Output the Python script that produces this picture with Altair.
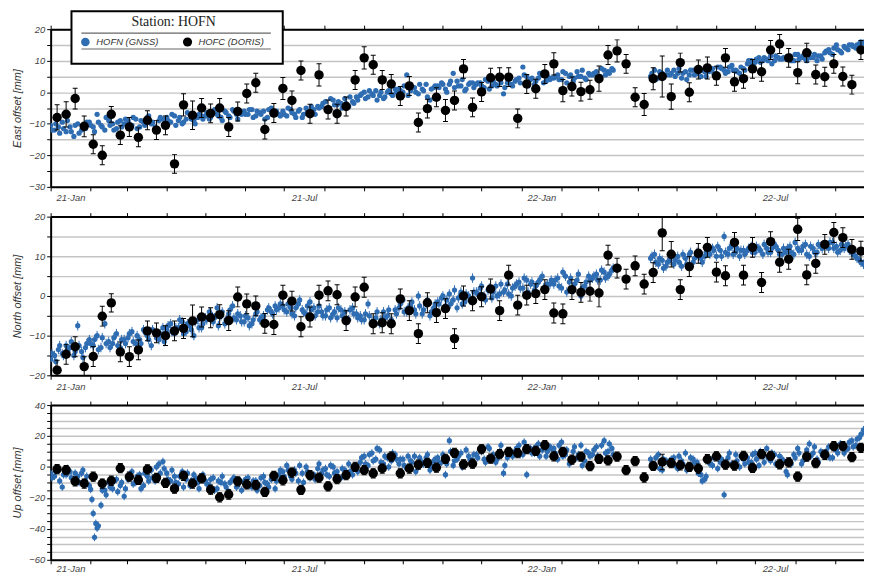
import altair as alt
import pandas as pd

BLUE = "#2f6db3"

# ---------------- GNSS (HOFN): two interleaved 3-day series (None = data gap)
GNSS_A_START = "2021-01-01"
GNSS_B_START = "2021-01-02"
GNSS_N = 211

east_gnss_a = [
    -10.5, -12, -11, -9.5, -12.5, -11, -14, -10, -12, -11.5,
    -9.5, -11, -7, -10.5, -12, -9, -10, -11.5, -9, -10,
    -9, -10.5, -8.5, -11, -9.5, -8, -10, -11, -9, -8.5,
    -8, -9.5, -7.5, -9, -10, -8.5, -7, -9, -8, -7.5,
    -7.5, -8.5, -6.5, -7, -8, -6, -7.5, -5.5, -7, -6.5,
    -6, -7, -5.5, -7.5, -6.5, -6, -8, -5, -6.5, -7,
    -6, -7.5, -5.5, -7, -6, -8, -5, -6.5, -5.5, -4.5,
    -4.5, -3, -5, -2.5, -4, -3.5, -2, -4.5, -3, -1.5,
    -1, 0, -1.5, -0.5, 0.5, -1, -2, 0, -0.5, 1,
    1, 0, 5.5, 0.5, 1.5, -0.5, 1, 2.5, -2.5, 1.5,
    2, 3, 1, 2.5, 6, 3.5, 2, 0.5, 2.5, 3,
    2.5, 3, 1.5, 3.5, 2, 2.5, 4, -0.5, 3, 2.5,
    3.5, 4.5, 8, 5, 4, 2.5, 4.5, 5.5, 3.5, 4,
    4.5, 5.5, 4, 6, 5, 3.5, 6.5, 5, 4.5, 6,
    5.5, 6.5, 5, 7, 6.5, 7.5, None, None, None, None,
    None, None, None, None, None, 5, 7, 4.5, 6, 5.5,
    5.5, 7, 6, 4.5, 6.5, 5.5, 7, 6, 5, 6.5,
    6.5, 7.5, 6, 8, 7, 6.5, 8.5, 7, 6, 7.5,
    9, 10, 9.5, 11, 10, 10.5, 11.5, 10, 11, 10.5,
    10.5, 11.5, 10, 12, 11, 10.5, 12.5, 11, 10, 11.5,
    12.5, 13.5, 12, 15, 13, 14.5, 13.5, 15, 14, 15.5,
    15.5,
]
east_gnss_b = [
    -12, -10, -13, -11.5, -9, -12.5, -10.5, -13, -11, -9.5,
    -10.5, -12.5, -9.5, -11, -8, -10.5, -12, -9.5, -11, -8.5,
    -10, -8, -11.5, -9, -10.5, -7.5, -9.5, -12, -8, -10,
    -9, -7, -10.5, -8, -9.5, -6.5, -8.5, -10, -7, -8.5,
    -6.5, -8, -5.5, -7.5, -9, -6.5, -8, -6, -8.5, -7,
    -7, -5.5, -8, -6, -7, -8.5, -5.5, -7, -6, -7.5,
    -7, -5, -6.5, -8, -5.5, -7, -6, -4.5, -7, -5,
    -3.5, -5.5, -2, -4, -3, -5, -3.5, -1.5, -3.5, -2.5,
    -0.5, -2, 0.5, -1, -2.5, 0, -1.5, 0.5, -1, 0,
    0.5, 2, -1, 1.5, 0, 2.5, 0.5, -1.5, 1, 2,
    1.5, 2.5, 0, 3.5, 1.5, 2, 4, 1, 3, 1.5,
    3, 2, 4, 1, 3.5, 2, 3, 1.5, 4, 2,
    4, 3, 5.5, 2, 4.5, 3.5, 6, 3, 5, 4.5,
    5, 4, 6.5, 3, 5.5, 4.5, 5, 7, 4, 5.5,
    6, 5, 7.5, 5.5, 6, 7, None, None, None, None,
    None, None, None, None, None, 6, 4, 6.5, 5, 7,
    6, 5, 7.5, 6, 4, 7, 5.5, 6.5, 7, 5,
    7, 6, 8, 7.5, 6, 8, 7, 6.5, 8, 7,
    10, 9, 10.5, 9.5, 11, 10, 9, 11.5, 10.5, 11,
    11, 10, 12, 10.5, 11.5, 10, 11, 12, 11.5, 10.5,
    13, 12.5, 14, 13.5, 12.5, 14, 15, 14.5, 15, 16,
    16,
]

north_gnss_a = [
    -16, -15, -13.5, -14.5, -12.5, -13, -15, -7.5, -14, -13,
    -11, -12.5, -10, -13, -7, -11.5, -12, -9.5, -13, -11,
    -10.5, -9, -12, -11, -8.5, -10, -12.5, -9.5, -11, -8,
    -8.5, -7, -9.5, -8, -6.5, -9, -7.5, -10, -6, -8,
    -5.5, -4, -6.5, -3, -5, -7, -4.5, -2.5, -6, -5,
    -6.5, -5.5, -7, -4.5, -6, -5, -3.5, -4, -2.5, -3,
    -2.5, -4, -3, -5, -2, -3.5, -4.5, -1.5, -3, -4,
    -4, -5, -3, -4.5, -5.5, -3.5, -4, -6, -3, -4.5,
    -5, -6, -2, -6.5, -5.5, -7, -4, -5, -6, -3.5,
    -3, -1, -4, -2.5, -3.5, 0, -4.5, -2, -5, -3,
    -1.5, -0.5, -2.5, 0.5, -1, -3, 1, -1.5, 0, 4.5,
    1, 2, 0, 1.5, -0.5, 2.5, 0.5, 1, 3, 0,
    2.5, 3.5, 2, 4, 3, 1.5, 3.5, 5, 2.5, 3,
    3, 4.5, 2, 5, 3.5, 1.5, 4, 0, 2.5, 5,
    4.5, 5.5, 4, 6, 5, 6.5, None, None, None, None,
    None, None, None, None, None, 9.5, 10.5, 8, 9, 7.5,
    9, 8, 10, 7.5, 9.5, 10.5, 8.5, 11, 9.5, 10,
    11, 12, 10, 11.5, 15, 10.5, 12.5, 11, 10, 11.5,
    11.5, 12.5, 11, 12, 10.5, 12, 11, 13, 11.5, 10.5,
    11, 12.5, 10.5, 12, 11.5, 13, 10, 12, 11, 12.5,
    13, 12, 13.5, 12.5, 11.5, 12, 13, 11, 10, 9,
    8,
]
north_gnss_b = [
    -14.5, -16.5, -12.5, -15, -13.5, -11.5, -14, -12.5, -15.5, -12,
    -12, -11, -13.5, -10.5, -12, -13, -10.5, -12.5, -11, -12,
    -9.5, -11.5, -10, -12, -9, -11, -8.5, -10.5, -9.5, -11.5,
    -7.5, -9, -8, -6, -9.5, -7, -8.5, -6.5, -8, -7,
    -6, -4.5, -5.5, -7.5, -4, -6, -3.5, -5.5, -4.5, -6.5,
    -5, -7.5, -6, -4, -5.5, -6.5, -3, -4.5, -3.5, -2,
    -3.5, -2, -4.5, -3, -1, -4, -2.5, -3.5, -5, -2.5,
    -5, -3.5, -5.5, -4, -3, -5, -6.5, -3.5, -4.5, -5.5,
    -6, -4.5, -5, -7, -4, -6, -5.5, -3.5, -6.5, -4.5,
    -2, -4, -3, -1.5, -4.5, -2.5, -3.5, -1, -4, -2,
    -2, 0, -1, -2, 1.5, -0.5, -2, 0.5, -1, 1,
    0.5, 2.5, -1, 2, 1, 0, 3, 1.5, 0.5, 2,
    3, 2, 4.5, 1, 3.5, 2.5, 4, 2, 3, 4,
    4, 2.5, 6, 1, 4.5, 3, 5.5, 2, 3.5, 4,
    5, 4, 6.5, 4.5, 5.5, 7, None, None, None, None,
    None, None, None, None, None, 10, 8.5, 9.5, 7, 8.5,
    10, 9, 8.5, 10.5, 8, 11, 9.5, 10, 8.5, 11,
    10.5, 11.5, 12.5, 10, 11, 12, 10.5, 12, 11.5, 10.5,
    12, 11, 12.5, 11.5, 13, 11, 12, 12.5, 10.5, 12,
    12, 11, 13.5, 11.5, 12.5, 10.5, 12.5, 11, 13, 12,
    12.5, 13.5, 12, 11, 13, 12.5, 11.5, 10.5, 9.5, 8.5,
    8,
]

up_gnss_a = [
    -4, -6, -2, -13, -5, -3, -8, -6, -4, -9,
    -12, -30, -39.5, -24.7, -15, -10, -14, -8, -12, -19,
    -8, -3, -10, -5, -12, -6, -2, -9, 2, 3.5,
    -4, -9, -6, -11, -3, -8, -12, -5, -10, -7,
    -9, -12, -7, -14, -10, -11, -16, -8, -13, -9,
    -10, -7, -13, -9, -12, -6, -11, -8, -14, -5,
    -3, 1, -6, -2, -9, -4, 0, -7, -5, -1,
    -4, -1, -6, 0, -3, -7, -2, 2, -5, -1,
    3, 7, 1, 9, 5, 11, 2, 6, 4, 8,
    2, 5, -1, 4, 7, 0, 3, 6, -2, 4,
    6, 3, -5, 17, 1, 5, 9, 2, 7, 4,
    8, 11, 5, 13, 7, 3, 10, -4, 6, 9,
    10, 14, 8, -5, 12, 9, 15, 11, 7, 13,
    12, 5, 16, 8, 2, 10, 6, 14, 4, 9,
    8, 13, 6, 17, 10, 12, None, None, None, None,
    None, None, None, None, None, 5, 1, 8, -2, 4,
    2, 6, -1, 4, 9, 0, 5, 3, -5, -8,
    4, 1, 7, 3, -18, 6, 2, 8, 0, 5,
    6, 3, 9, 1, 7, 12, 4, 8, 2, 5,
    -3, 4, 8, 12, 2, 6, 15, 9, 5, 10,
    8, 13, 6, 11, 15, 9, 12, 17, 14, 19,
    24,
]
up_gnss_b = [
    -7, -3, -9, -5, -1, -7, -4, -10, -2, -6,
    -14.5, -45.5, -38, -15, -18, -13, -9, -16, -10, -14,
    -5, -11, -6, -14, -4, -9, -7, 0, -4, -1,
    -8, -2, -10, -6, -13, -4, -9, -7, -14, -5,
    -11, -8, -15, -9, -6, -13, -10, -7, -12, -15,
    -8, -12, -9, -15, -7, -10, -13, -6, -9, -2,
    -6, -2, -8, -4, 1, -10, -3, -5, -8, 2,
    -2, -5, 1, -4, -8, -1, -5, -3, 0, -3,
    6, 2, 8, 4, 12, 3, 7, 0, 9, 5,
    5, 1, 7, 3, -3, 6, 2, 8, 1, 5,
    3, 8, 2, 10, 4, 7, 0, 11, 5, 8,
    6, 10, 3, 12, 8, 5, 14, 1, 9, 7,
    12, 8, 16, 11, 9, 13, 7, 14, 10, 12,
    9, 14, 7, 11, 3, 13, 8, 1, 10, 7,
    11, 7, 14, 9, 15, 8, None, None, None, None,
    None, None, None, None, None, 2, 6, -1, 5, 3,
    5, 1, 7, 2, -2, 6, 3, -4, -9, -6,
    2, 6, -1, 5, 3, 9, 1, 4, 7, 2,
    3, 8, 5, 10, 3, 6, 9, 2, 7, 4,
    -5, 2, 6, 9, 4, 11, 7, 13, 3, 8,
    10, 6, 12, 9, 14, 11, 16, 13, 18, 21,
    22,
]

# extra daily GNSS Up values inside the early-February dip
up_dip_dates = ["2021-02-02", "2021-02-05"]
up_dip_vals = [-21, -36.5]

gnss_sigma = {"east": 0.5, "north": 1.2, "up": 2.5}

# ---------------- DORIS (HOFC): weekly from 2021-01-06
DORIS_START = "2021-01-06"
DORIS_N = 91

east_doris = [
    -8.0, -7.0, -2.0, -10.8, -16.5, -20.0, -7.0, -13.6, -11.0, -14.3,
    -8.9, -12.0, -10.5, -22.7, -4.0, -7.3, -5.0, -6.7, -5.0, -11.0,
    -6.1, -0.4, 3.0, -11.8, -6.6, 1.2, -2.6, 6.9, -6.8, 5.5,
    -5.5, -6.8, -4.5, 3.9, 10.9, 8.7, 3.9, 2.6, -1.2, 2.0,
    -9.6, -5.2, -1.6, -5.8, -2.6, 7.4, -4.8, 0.1, 4.6, 4.8,
    4.8, -8.3, 2.6, 1.1, 5.8, 9.0, 0.5, 1.8, 0.2, 0.8,
    4.3, 11.8, 13.1, 9.0, -1.6, -3.9, 4.3, 5.0, -1.4, 9.4,
    0.0, 7.2, 7.7, 5.2, 10.9, 3.3, 4.3, 7.4, 6.5, 13.4,
    15.3, 10.9, 6.2, 12.5, 5.6, 4.9, 9.0, 5.0, 2.4, 13.4,
    0.8,
]
east_doris_err = [
    4, 4, 3.3, 3.3, 3, 3, 2.5, 3, 3, 3,
    3, 3, 3, 3, 3.5, 4.5, 3, 3, 3, 3,
    3, 3, 3, 3, 3, 3.5, 3, 3, 3, 3.5,
    3, 3, 3, 3, 3.5, 3, 3, 3, 3, 3,
    3, 3, 3, 3.5, 3, 3, 3, 3, 3, 3,
    3, 3, 3, 3, 3, 3.5, 3.5, 3, 3, 3,
    4, 3, 3.5, 3, 3, 3.5, 3.5, 6.5, 4, 3,
    3, 3, 3.5, 3, 3, 3, 3, 3, 3, 3,
    3, 3, 3.5, 3, 3, 3, 3, 3, 3, 3,
    3,
]

north_doris = [
    -18.7, -14.7, -12.8, -17.8, -15.25, -5.1, -1.75, -14.1, -15.3, -13.6,
    -8.8, -9.3, -10, -8.8, -8.2, -6.3, -5.3, -5.5, -4.7, -6.2,
    -0.25, -2, -2.5, -6.9, -7.2, 0.2, -1.3, -7.75, -5.3, 0.2,
    1.3, 0.3, -6.2, -0.25, 2.2, -7, -6.75, -7, -0.75, -3.7,
    -9.5, -1.7, -4.2, -3.2, -10.75, 0, -1.2, -0.2, 1.75, -3.7,
    5.25, -2.3, 0.2, 0.6, 1.6, -4.3, -4.5, 1.6, 0.9, 1.2,
    0.75, 10.3, 7, 4.25, 7.6, 3, 5.9, 15.9, 10.5, 1.6,
    7.4, 10.75, 12.25, 6, 5.1, 13.5, 5.25, 12.25, 3.4, 13.7,
    8.5, 9.25, 16.8, 5.3, 8.2, 13, 16, 14.7, 11.75, 11.3,
    11.2,
]
north_doris_err = [
    2.5, 2.5, 2.5, 2.5, 2.5, 2.5, 2.3, 2.5, 2.5, 2.5,
    2.5, 2.5, 2.5, 2.5, 2.5, 4, 2.5, 2.5, 2.5, 2.5,
    2.5, 2.5, 2.5, 2.5, 2.5, 2.5, 2.5, 2.5, 2.5, 2.5,
    2.5, 2.5, 2.5, 2.5, 2.5, 2.5, 2.5, 2.5, 2.5, 2.5,
    2.5, 2.5, 2.5, 2.5, 2.5, 2.5, 2.5, 2.5, 2.5, 2.5,
    2.5, 2.5, 2.5, 2.5, 2.5, 2.5, 2.5, 2.5, 2.5, 2.5,
    3.5, 2.5, 2.5, 2.5, 2.5, 2.5, 2.5, 4.5, 3.2, 2.5,
    2.5, 2.5, 2.5, 2.5, 2.5, 2.5, 2.5, 2.5, 2.5, 2.5,
    2.5, 2.5, 2.8, 2.5, 2.5, 2.5, 2.5, 2.5, 2.5, 2.5,
    2.5,
]

up_doris = [
    -1.4, -2, -9.3, -10.7, -6.3, -10.7, -8.9, -0.8, -6.3, -8.4,
    -1.6, -7, -10.3, -14, -5.7, -10.7, -7.4, -14.7, -19.6, -17.8,
    -9.3, -11.3, -11.7, -16.1, -5.7, -8.6, -3.6, -14.8, -5.3, -6.9,
    -12.5, -7.8, -5.3, 0, -2.1, -4.1, -1, 6.7, -4.1, -1,
    1.5, 2.7, -0.4, 5.2, 9.1, 1.7, 2.1, 11.6, 5.4, 8.3,
    9.8, 9, 11.5, 10.4, 14.1, 6.9, 9.8, 4.7, 6.7, 0.5,
    5.2, 4.2, 6.7, -2.1, 3.8, -6.8, 0.7, 3.2, 2.5, 1.1,
    0, -1, 5, 6.9, 1.5, 0.9, 7.1, -0.6, 8.3, 7.1,
    1.7, 2.9, -6.2, 6.7, 2.5, 7.9, 13.5, 13.5, 6.3, 12.4,
    23.8,
]
up_doris_err = [3] * 67 + [5] + [3] * 23

# ---------------- axes
month_ticks = [(y, m) for y in (2021, 2022) for m in range(1, 13) if not (y == 2022 and m > 9)]
X_START = (2021, 1, 1)
X_END = (2022, 9, 28)
PLOT_W = 826


def dt(y, m, d=1):
    return alt.DateTime(year=y, month=m, date=d, utc=True)


tick_values = [dt(y, m) for (y, m) in month_ticks]
xscale = alt.Scale(type="utc", domain=[dt(*X_START), dt(*X_END)], nice=False)


def bottom_axis(label_padding):
    return alt.Axis(
        orient="bottom", title=None, values=tick_values, grid=False,
        labelExpr="(utcmonth(datum.value) == 0 || utcmonth(datum.value) == 6) ? utcFormat(datum.value, '%y-%b') : ''",
        labelOffset=20, labelAlign="center", labelBaseline="top", labelPadding=label_padding,
        labelBound=False, labelFlush=False, labelOverlap=False,
    )


top_axis = alt.Axis(orient="top", title=None, values=tick_values, grid=False, labels=False)

dates_a = list(pd.date_range(GNSS_A_START, periods=GNSS_N, freq="3D").strftime("%Y-%m-%d"))
dates_b = list(pd.date_range(GNSS_B_START, periods=GNSS_N, freq="3D").strftime("%Y-%m-%d"))
doris_dates = list(pd.date_range(DORIS_START, periods=DORIS_N, freq="7D").strftime("%Y-%m-%d"))


def gnss_frame(vals_a, vals_b, sigma, extra_dates=(), extra_vals=()):
    df = pd.DataFrame({"date": dates_a + dates_b + list(extra_dates),
                       "value": list(vals_a) + list(vals_b) + list(extra_vals)})
    df = df.dropna().reset_index(drop=True)
    df["lo"] = df["value"] - sigma
    df["hi"] = df["value"] + sigma
    return df


def doris_frame(vals, errs):
    df = pd.DataFrame({"date": doris_dates, "value": vals, "err": errs})
    df["lo"] = df["value"] - df["err"]
    df["hi"] = df["value"] + df["err"]
    return df


ONE = pd.DataFrame({"k": [0]})


def legend_layers():
    box = alt.Chart(ONE).mark_rect(fill="white", stroke="black", strokeWidth=2).encode(
        x=alt.value(21), x2=alt.value(234), y=alt.value(-18), y2=alt.value(35))
    title = alt.Chart(ONE).mark_text(font="Liberation Serif", fontSize=14, color="#222",
                                     baseline="middle", align="center").encode(
        x=alt.value(124), y=alt.value(-7), text=alt.value("Station: HOFN"))
    line1 = alt.Chart(ONE).mark_rule(color="#666", strokeWidth=1.2).encode(
        x=alt.value(31), x2=alt.value(222), y=alt.value(4))
    line2 = alt.Chart(ONE).mark_rule(color="#666", strokeWidth=1.2).encode(
        x=alt.value(31), x2=alt.value(222), y=alt.value(20))
    sym1 = alt.Chart(ONE).mark_circle(color=BLUE, size=75, opacity=1).encode(
        x=alt.value(35), y=alt.value(13))
    sym2 = alt.Chart(ONE).mark_circle(color="black", size=85, opacity=1).encode(
        x=alt.value(138), y=alt.value(13))
    lab1 = alt.Chart(ONE).mark_text(font="Liberation Sans", fontStyle="italic", fontSize=9.5,
                                    color="#333", align="left", baseline="middle").encode(
        x=alt.value(46), y=alt.value(13), text=alt.value("HOFN (GNSS)"))
    lab2 = alt.Chart(ONE).mark_text(font="Liberation Sans", fontStyle="italic", fontSize=9.5,
                                    color="#333", align="left", baseline="middle").encode(
        x=alt.value(149), y=alt.value(13), text=alt.value("HOFC (DORIS)"))
    # invisible spacer fixing the left extent of the figure
    spacer = alt.Chart(ONE).mark_rule(opacity=0, strokeWidth=1).encode(
        x=alt.value(-42.5), y=alt.value(0), y2=alt.value(10))
    return [box, title, line1, line2, sym1, sym2, lab1, lab2, spacer]


def panel(gdf, ddf, title, ymin, ymax, label_step, height, label_padding=2, legend=False):
    yscale = alt.Scale(domain=[ymin, ymax], nice=False, zero=False)
    yaxis = alt.Axis(title=title, values=list(range(ymin, ymax + 1, 5)), grid=True,
                     labelExpr=f"datum.value % {label_step} == 0 ? datum.label : ''",
                     labelPadding=2, titleX=-33, titleY=height / 2, titleAngle=270,
                     titleAlign="center", titleBaseline="middle")
    x_none = alt.X("date:T", scale=xscale, axis=None)

    def Y(field):
        return alt.Y(field, type="quantitative", scale=yscale, axis=yaxis)

    g_err = alt.Chart(gdf).mark_rule(color=BLUE, strokeWidth=1, clip=True).encode(
        x=x_none, y=Y("lo"), y2="hi")
    g_pts = alt.Chart(gdf).mark_circle(color=BLUE, size=28, opacity=1, clip=True).encode(
        x=alt.X("date:T", scale=xscale, axis=bottom_axis(label_padding)), y=Y("value"))
    d_err = alt.Chart(ddf).mark_rule(color="black", strokeWidth=1, clip=True).encode(
        x=x_none, y=Y("lo"), y2="hi")
    d_cap1 = alt.Chart(ddf).mark_tick(orient="horizontal", size=5, thickness=1,
                                      color="black", opacity=1, clip=True).encode(
        x=x_none, y=Y("lo"))
    d_cap2 = alt.Chart(ddf).mark_tick(orient="horizontal", size=5, thickness=1,
                                      color="black", opacity=1, clip=True).encode(
        x=x_none, y=Y("hi"))
    d_pts = alt.Chart(ddf).mark_circle(color="black", size=90, opacity=1, clip=True).encode(
        x=alt.X("date:T", scale=xscale, axis=top_axis), y=Y("value"))
    layers = [g_err, g_pts, d_err, d_cap1, d_cap2, d_pts]
    if legend:
        layers += legend_layers()
    return alt.layer(*layers).properties(width=PLOT_W, height=height).resolve_axis(x="independent")


east = panel(gnss_frame(east_gnss_a, east_gnss_b, gnss_sigma["east"]),
             doris_frame(east_doris, east_doris_err),
             "East offset [mm]", -30, 20, 10, 159, legend=True)
north = panel(gnss_frame(north_gnss_a, north_gnss_b, gnss_sigma["north"]),
              doris_frame(north_doris, north_doris_err),
              "North offset [mm]", -20, 20, 10, 160)
up = panel(gnss_frame(up_gnss_a, up_gnss_b, gnss_sigma["up"], up_dip_dates, up_dip_vals),
           doris_frame(up_doris, up_doris_err),
           "Up offset [mm]", -60, 40, 20, 156, label_padding=0)

chart = alt.vconcat(east, north, up, spacing=30, bounds="flush").properties(
    padding={"left": 0, "top": 0, "right": -6, "bottom": 0}
).configure_view(stroke=None).configure_axis(
    labelFont="Liberation Sans", labelFontStyle="italic", labelFontSize=9.5, labelColor="#444",
    titleFont="Liberation Sans", titleFontStyle="italic", titleFontSize=11,
    titleFontWeight="normal", titleColor="#333",
    domainColor="black", domainWidth=2, tickColor="black", tickSize=4, tickWidth=1,
    gridColor="#c4c4c4", gridWidth=1.5,
)

chart.save("out.html", embed_options={"renderer": "svg", "actions": False})
